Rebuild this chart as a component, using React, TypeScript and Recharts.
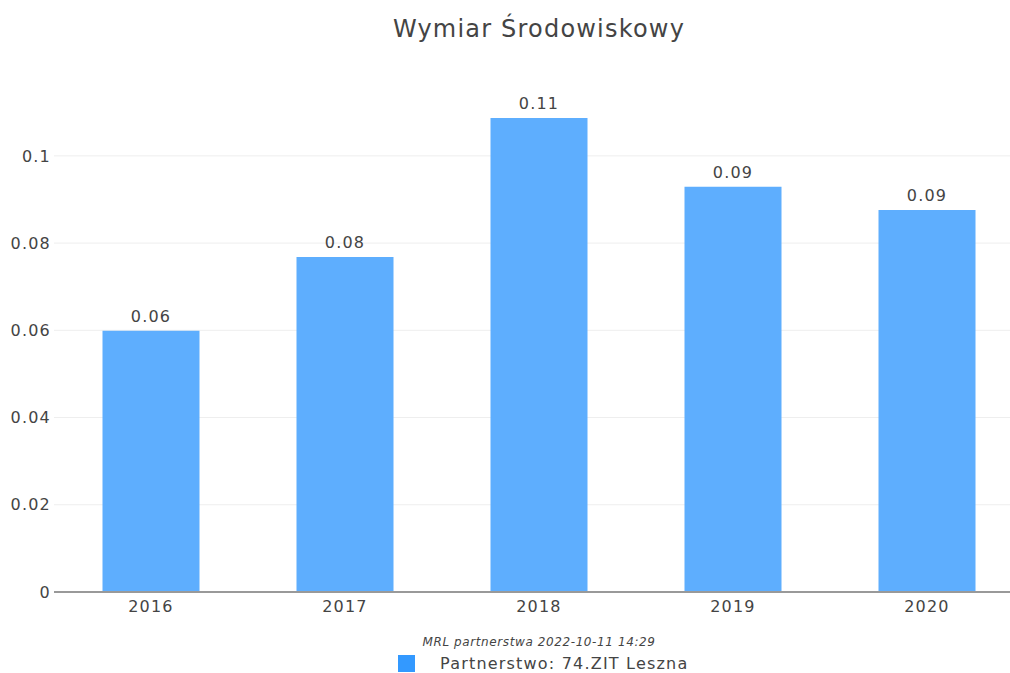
import { BarChart, Bar, XAxis, YAxis, CartesianGrid, LabelList } from "recharts";

const years = ["2016", "2017", "2018", "2019", "2020"];
const values = [0.0599, 0.0768, 0.1087, 0.0929, 0.0876];
const yTicks = [0, 0.02, 0.04, 0.06, 0.08, 0.1];

const data = years.map((year, i) => ({ year, value: values[i] }));

const FONT = "'DejaVu Sans', Verdana, sans-serif";
const TEXT = "#444";
const BAR = "#5eaefe";

export default function App() {
  return (
    <div
      style={{
        position: "fixed",
        left: 0,
        top: 0,
        width: 1010,
        height: 673,
        overflow: "hidden",
        background: "#fff",
        fontFamily: FONT,
      }}
    >
      <div
        style={{
          position: "absolute",
          left: 54,
          width: 970,
          top: 15,
          textAlign: "center",
          fontSize: 24,
          letterSpacing: 1.2,
          color: TEXT,
        }}
      >
        Wymiar Środowiskowy
      </div>

      <BarChart
        width={1024}
        height={625}
        data={data}
        margin={{ top: 80, right: 0, bottom: 0, left: 0 }}
        barCategoryGap="25%"
      >
        <CartesianGrid
          vertical={false}
          stroke="#eeeeee"
          strokeWidth={1}
          horizontalValues={yTicks}
        />
        <XAxis
          dataKey="year"
          height={33}
          tickLine={false}
          axisLine={{ stroke: "#999", strokeWidth: 2 }}
          tick={{ fontSize: 16, fill: TEXT, fontFamily: FONT, letterSpacing: 1.2 }}
          tickMargin={3}
        />
        <YAxis
          width={54}
          domain={[0, 0.1174]}
          ticks={yTicks}
          tickFormatter={(v: number) => String(v)}
          tickLine={false}
          tickSize={0}
          axisLine={false}
          tick={{ fontSize: 16, fill: TEXT, fontFamily: FONT, letterSpacing: 1.2 }}
          tickMargin={3}
        />
        <Bar dataKey="value" fill={BAR} isAnimationActive={false}>
          <LabelList
            dataKey="value"
            position="top"
            offset={9}
            formatter={(v: number) => v.toFixed(2)}
            style={{ fontSize: 16, fill: TEXT, fontFamily: FONT, letterSpacing: 1.2 }}
          />
        </Bar>
      </BarChart>

      <div
        style={{
          position: "absolute",
          left: 54,
          width: 970,
          top: 635,
          textAlign: "center",
          fontSize: 12,
          fontStyle: "italic",
          letterSpacing: 0.6,
          color: TEXT,
        }}
      >
        MRL partnerstwa 2022-10-11 14:29
      </div>
      <div
        style={{
          position: "absolute",
          left: 398,
          top: 654,
          display: "flex",
          alignItems: "center",
          fontSize: 16,
          letterSpacing: 1.2,
          color: TEXT,
        }}
      >
        <span
          style={{
            display: "inline-block",
            width: 17,
            height: 17,
            background: "#3399ff",
            marginRight: 25,
          }}
        />
        Partnerstwo: 74.ZIT Leszna
      </div>
    </div>
  );
}
